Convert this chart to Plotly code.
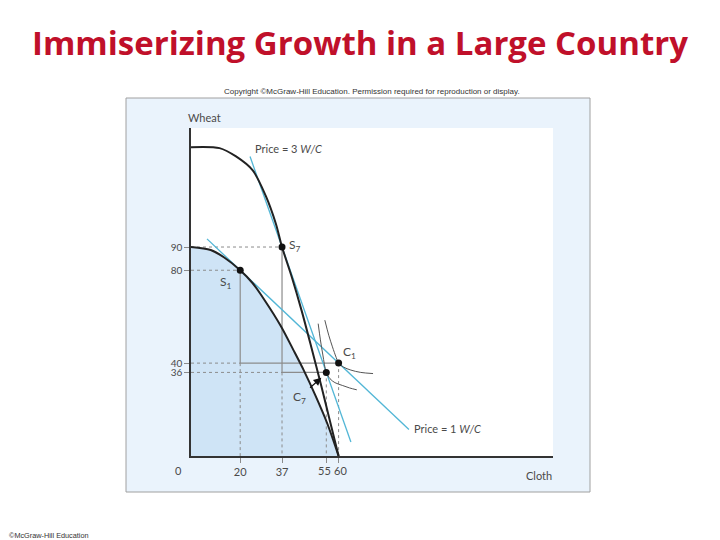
import plotly.graph_objects as go

# ---------------- data ----------------
# Production possibility frontier before growth (S1)
ppf1_cloth = [0, 8, 13.5, 20, 25, 30, 36.5, 41.7, 45.8, 50.6, 55.4, 60]
ppf1_wheat = [90, 88.7, 85.5, 80, 74.5, 67, 56, 45.5, 37, 26, 14, 0]

# Production possibility frontier after growth (S7)
ppf7_cloth = [0, 11.6, 18.3, 25.1, 30.4, 34.5, 37, 41, 45, 49, 53, 56.5, 60]
ppf7_wheat = [133, 132.6, 129, 123, 112, 100, 90, 77, 62.5, 46.5, 30, 15, 0]

# Terms-of-trade lines
price1_cloth = [6.5, 88.6]
price1_wheat = [93.5, 11.4]
price3_cloth = [24, 65]
price3_wheat = [129, 6]

# Indifference curves
ic1_cloth = [54.4, 56, 57.5, 59, 60, 62, 65, 69, 74]
ic1_wheat = [58.5, 52, 47, 42.5, 40, 38.3, 37, 36, 35.5]
ic7_cloth = [51.7, 52.6, 53.6, 55, 56.5, 58.5, 61.5, 64.5, 67.4]
ic7_wheat = [57, 50, 43.5, 36, 33.3, 31.6, 30.4, 29.3, 28.5]

# Production / consumption points
pt_names = ["S1", "S7", "C1", "C7"]
pt_cloth = [20, 37, 60, 55]
pt_wheat = [80, 90, 40, 36]

# Axis ticks
x_ticks = [20, 37, 55, 60]
x_tick_text = ["20", "37", "55", "60"]
y_ticks = [36, 40, 80, 90]
y_tick_text = ["36", "40", "80", "90"]

# ---------------- layout geometry ----------------
W_PX, H_PX = 720, 540
L, R, T, B = 191, 167, 128, 84
PW, PH = W_PX - L - R, H_PX - T - B
XMAX = PW / 2.46
YMAX = PH / 2.322


def px(xp):
    return (xp - L) / PW


def py(yp):
    return (H_PX - B - yp) / PH


P = dict(zip(pt_names, zip(pt_cloth, pt_wheat)))
S1, S7, C1, C7 = P["S1"], P["S7"], P["C1"], P["C7"]

GREY = "#8c8c8c"
TEAL = "#52b6d6"
DARK = "#222222"
TXT = "#4a4a4a"
FONT = "Lato"

fig = go.Figure()

# shaded area under original PPF
fig.add_trace(go.Scatter(x=ppf1_cloth, y=ppf1_wheat, mode="lines", fill="tozeroy",
                         fillcolor="#cfe4f6", line=dict(color="rgba(0,0,0,0)", shape="spline"),
                         hoverinfo="skip", showlegend=False))

# dashed guide lines
dash_x = [0, S1[0], None, 0, S7[0], None, 0, S1[0], None, 0, S7[0], None,
          S1[0], S1[0], None, S7[0], S7[0], None, C7[0], C7[0], None, C1[0], C1[0]]
dash_y = [S1[1], S1[1], None, S7[1], S7[1], None, C1[1], C1[1], None, C7[1], C7[1], None,
          C1[1], 0, None, C7[1], 0, None, C7[1], 0, None, C1[1], 0]
fig.add_trace(go.Scatter(x=dash_x, y=dash_y, mode="lines",
                         line=dict(color=GREY, width=1, dash="3px,3px"),
                         hoverinfo="skip", showlegend=False))

# solid trade triangles
solid_x = [S1[0], S1[0], C1[0], None, S7[0], S7[0], C7[0]]
solid_y = [S1[1], C1[1], C1[1], None, S7[1], C7[1], C7[1]]
fig.add_trace(go.Scatter(x=solid_x, y=solid_y, mode="lines",
                         line=dict(color=GREY, width=1.2),
                         hoverinfo="skip", showlegend=False))

# price lines
for xs, ys in [(price1_cloth, price1_wheat), (price3_cloth, price3_wheat)]:
    fig.add_trace(go.Scatter(x=xs, y=ys, mode="lines", line=dict(color=TEAL, width=1.3),
                             hoverinfo="skip", showlegend=False))

# indifference curves
for xs, ys in [(ic1_cloth, ic1_wheat), (ic7_cloth, ic7_wheat)]:
    fig.add_trace(go.Scatter(x=xs, y=ys, mode="lines",
                             line=dict(color="#555555", width=1, shape="spline"),
                             hoverinfo="skip", showlegend=False))

# PPFs
for xs, ys in [(ppf1_cloth, ppf1_wheat), (ppf7_cloth, ppf7_wheat)]:
    fig.add_trace(go.Scatter(x=xs, y=ys, mode="lines",
                             line=dict(color=DARK, width=2, shape="spline", smoothing=0.8),
                             hoverinfo="skip", showlegend=False))

# points
fig.add_trace(go.Scatter(x=pt_cloth, y=pt_wheat, mode="markers",
                         marker=dict(color="#111111", size=7),
                         hoverinfo="skip", showlegend=False))

ann = []
lab = dict(size=11, color=TXT, family=FONT)
sub = dict(size=12, color=TXT, family=FONT)


def note(x, y, text, ref="x", xa="center", font=lab):
    yr = "y" if ref == "x" else "paper"
    return dict(x=x, y=y, xref=ref, yref=yr, text=text, showarrow=False,
                xanchor=xa, yanchor="middle", font=font)


ann.append(note(14.2, 74.9, "S<sub>1</sub>", font=sub))
ann.append(note(39.0, 90.5, "S<sub>7</sub>", xa="left", font=sub))
ann.append(note(60.8, 44.5, "C<sub>1</sub>", xa="left", font=sub))
ann.append(note(44.3, 25.4, "C<sub>7</sub>", font=sub))
ann.append(dict(x=53.3, y=34.0, ax=47.8, ay=28.8, xref="x", yref="y", axref="x", ayref="y",
                text="", showarrow=True, arrowhead=2, arrowsize=1.3, arrowwidth=1.2,
                arrowcolor="#111111", standoff=1))
ann.append(note(25.2, 132.6, "Price = 3 <i>W/C</i>", xa="left"))
ann.append(note(89.8, 12, "Price = 1 <i>W/C</i>", xa="left"))
ann.append(note(px(186), py(118), "Wheat", ref="paper", xa="left"))
ann.append(note(px(539), py(475), "Cloth", ref="paper"))
ann.append(note(px(178), py(470), "0", ref="paper"))
# the two crowded tick labels (55, 60) are set slightly apart as in the reference
ann.append(note(px(324), py(470.5), x_tick_text[2], ref="paper"))
ann.append(note(px(340), py(470.5), x_tick_text[3], ref="paper"))
ann.append(note(px(372), py(91),
                "Copyright ©McGraw-Hill Education. Permission required for reproduction or display.",
                ref="paper", font=dict(size=8, color="#333333", family="Liberation Sans")))
ann.append(note(px(7), py(535), "©McGraw-Hill Education", ref="paper", xa="left",
                font=dict(size=7.3, color="#333333", family="Liberation Sans")))
ann.append(note(px(360), py(42), "<b>Immiserizing Growth in a Large Country</b>", ref="paper",
                font=dict(size=33, color="#c0102a", family="Open Sans")))

shapes = [
    dict(type="rect", xref="paper", yref="paper", x0=px(126), x1=px(590), y0=py(492), y1=py(98),
         fillcolor="#eaf3fc", line=dict(color="#a0a0a0", width=1), layer="below"),
    dict(type="rect", xref="paper", yref="paper", x0=0, x1=1, y0=0, y1=1,
         fillcolor="#ffffff", line=dict(width=0), layer="below"),
]

fig.update_layout(
    width=W_PX, height=H_PX,
    margin=dict(l=L, r=R, t=T, b=B, pad=0),
    paper_bgcolor="#ffffff", plot_bgcolor="rgba(0,0,0,0)",
    showlegend=False,
    annotations=ann, shapes=shapes,
    font=dict(family=FONT, color=TXT, size=11),
    xaxis=dict(range=[0, XMAX], showgrid=False, zeroline=False, showline=True,
               linecolor="#333333", linewidth=1.5, ticks="outside", ticklen=5,
               tickcolor=GREY, tickwidth=1, tickvals=x_ticks,
               ticktext=x_tick_text[:2] + ["", ""],
               tickangle=0, tickfont=dict(size=11, color=TXT, family=FONT), fixedrange=True),
    yaxis=dict(range=[0, YMAX], showgrid=False, zeroline=False, showline=True,
               linecolor="#333333", linewidth=1.5, ticks="outside", ticklen=5,
               tickcolor=GREY, tickwidth=1, tickvals=y_ticks, ticktext=y_tick_text,
               tickfont=dict(size=10, color=TXT, family=FONT), fixedrange=True),
)

fig.write_html("out.html")
